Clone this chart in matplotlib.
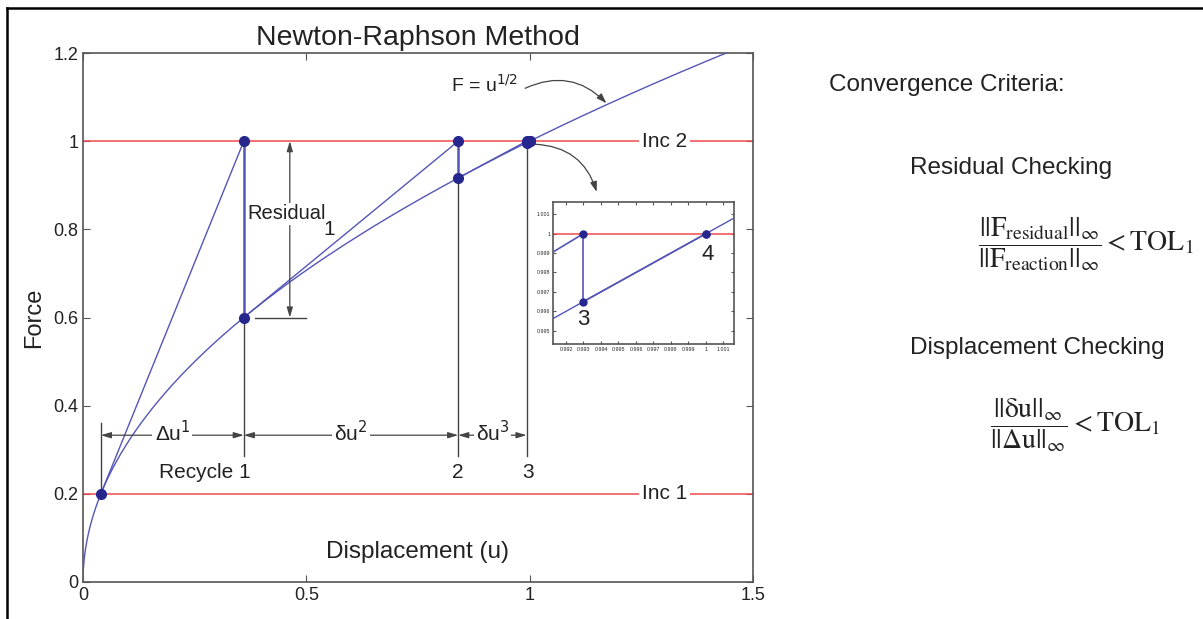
import numpy as np
import matplotlib
matplotlib.use("Agg")
import matplotlib.pyplot as plt
from matplotlib.lines import Line2D

plt.rcParams['font.family'] = ['Liberation Sans', 'DejaVu Sans']

# --- DATA ---
# Newton-Raphson iterates (F = u^1/2, Inc 1 = 0.2, Inc 2 = 1.0)
inc_levels = [0.2, 1.0]
inc_labels = ["Inc 1", "Inc 2"]
iter_u = [0.04, 0.36, 0.84, 0.993, 1.0]          # displacement at each iterate
iter_F = [0.2, 0.6, 0.9165, 0.9965, 1.0]         # internal force on the curve
predict_F = [1.0, 1.0, 1.0, 1.0]                 # tangent predictions reach Inc 2
dim_labels = ["Δu$^1$", "δu$^2$", "δu$^3$"]
recycle_labels = ["Recycle 1", "2", "3"]
main_xticks = [0, 0.5, 1, 1.5]
main_xlabels = ["0", "0.5", "1", "1.5"]
main_yticks = [0, 0.2, 0.4, 0.6, 0.8, 1.0, 1.2]
main_ylabels = ["0", "0.2", "0.4", "0.6", "0.8", "1", "1.2"]
inset_xticks = [0.992, 0.993, 0.994, 0.995, 0.996, 0.997, 0.998, 0.999, 1.0, 1.001]
inset_xlabels = ["0.992", "0.993", "0.994", "0.995", "0.996", "0.997", "0.998", "0.999", "1", "1.001"]
inset_yticks = [0.995, 0.996, 0.997, 0.998, 0.999, 1.0, 1.001]
inset_ylabels = ["0.995", "0.996", "0.997", "0.998", "0.999", "1", "1.001"]

BLUE = "#5555b8"
DOT = "#26268f"
RED = "#f04a4a"
GREY = "#444444"
TXT = "#222222"

W, H = 1203, 619
fig = plt.figure(figsize=(W / 100, H / 100), dpi=100)

def fbox(l, r, t, b):
    return [l / W, 1 - b / H, (r - l) / W, (b - t) / H]

def style_axes(ax, size):
    for s in ax.spines.values():
        s.set_color("#555555")
        s.set_linewidth(1.2)
    ax.tick_params(direction="in", top=True, right=True, colors="#555555",
                   labelcolor=TXT, labelsize=size, length=5)

def draw_iterations(ax, lw_tan, lw_vert, ms):
    # the curve F = u^1/2 (as labelled on the chart)
    uc = np.linspace(0, 1.6, 4000)
    ax.plot(uc, np.sqrt(uc), color=BLUE, lw=1.0, zorder=3)
    for lvl in inc_levels:
        ax.axhline(lvl, color=RED, lw=1.1, zorder=2)
    for i in range(len(predict_F)):
        ax.plot([iter_u[i], iter_u[i + 1]], [iter_F[i], predict_F[i]],
                color=BLUE, lw=lw_tan, zorder=3)
        if i < len(predict_F) - 1:
            ax.plot([iter_u[i + 1], iter_u[i + 1]], [predict_F[i], iter_F[i + 1]],
                    color=BLUE, lw=lw_vert, zorder=3)
    ax.plot(iter_u, iter_F, "o", color=DOT, ms=ms, zorder=5)
    ax.plot(iter_u[1:], predict_F, "o", color=DOT, ms=ms, zorder=5)

# --- MAIN AXES ---
ax = fig.add_axes(fbox(83, 753, 53, 582))
draw_iterations(ax, 1.0, 1.8, 7)
ax.set_xlim(0, 1.5)
ax.set_ylim(0, 1.2)
ax.set_xticks(main_xticks, main_xlabels)
ax.set_yticks(main_yticks, main_ylabels)
style_axes(ax, 13)
ax.set_title("Newton-Raphson Method", fontsize=20.5, color=TXT, pad=6)
ax.set_ylabel("Force", fontsize=17, color=TXT, labelpad=6)
ax.text(0.5, 0.035, "Displacement (u)", transform=ax.transAxes, ha="center",
        va="bottom", fontsize=17.5, color=TXT)

# inc labels on the red lines
for lvl, lab in zip(inc_levels, inc_labels):
    ax.text(1.302, lvl, lab, ha="center", va="center", fontsize=15, color=TXT,
            bbox=dict(fc="white", ec="none", pad=2), zorder=4)

# extension lines below the iterates
ext_top = 0.285
ax.plot([iter_u[0]] * 2, [0.213, 0.36], color=GREY, lw=1.0, zorder=2)
for u, F in zip(iter_u[1:4], iter_F[1:4]):
    ax.plot([u, u], [ext_top, F], color=GREY, lw=1.0, zorder=2)

# dimension arrows
dim_y = 0.333
for i in range(3):
    a, b = iter_u[i], iter_u[i + 1]
    ax.annotate("", xy=(b, dim_y), xytext=(a, dim_y),
                arrowprops=dict(arrowstyle="<|-|>,head_length=0.6,head_width=0.18",
                                color=GREY, lw=0.9, shrinkA=0, shrinkB=0))
    ax.text((a + b) / 2, dim_y + 0.005, dim_labels[i], ha="center", va="center",
            fontsize=15, color=TXT, bbox=dict(fc="white", ec="none", pad=1.5), zorder=4)

ax.text(0.273, 0.249, recycle_labels[0], ha="center", va="center", fontsize=15, color=TXT)
ax.text(iter_u[2], 0.249, recycle_labels[1], ha="center", va="center", fontsize=15, color=TXT)
ax.text(0.996, 0.249, recycle_labels[2], ha="center", va="center", fontsize=15, color=TXT)

# residual arrow
res_x = 0.463
ax.annotate("", xy=(res_x, predict_F[0]), xytext=(res_x, iter_F[1]),
            arrowprops=dict(arrowstyle="<|-|>,head_length=0.6,head_width=0.18",
                            color=GREY, lw=0.9, shrinkA=0, shrinkB=0))
ax.plot([0.385, 0.50], [iter_F[1], iter_F[1]], color=GREY, lw=1.0)
ax.text(0.367, 0.835, "Residual", ha="left", va="center", fontsize=14.5, color=TXT,
        bbox=dict(fc="white", ec="none", pad=1), zorder=4)
ax.text(0.538, 0.8, "1", ha="left", va="center", fontsize=15, color=TXT, zorder=6)

# curve label
ax.text(0.9, 1.127, r"F = u$^{1/2}$", ha="center", va="center", fontsize=14, color=TXT)
ax.annotate("", xy=(1.172, 1.086), xytext=(0.99, 1.12),
            arrowprops=dict(arrowstyle="-|>,head_length=0.6,head_width=0.2",
                            color=GREY, lw=0.9, connectionstyle="arc3,rad=-0.35",
                            shrinkA=0, shrinkB=0))
# arrow to inset
ax.annotate("", xy=(1.15, 0.885), xytext=(1.012, 0.993),
            arrowprops=dict(arrowstyle="-|>,head_length=0.6,head_width=0.2",
                            color=GREY, lw=0.9, connectionstyle="arc3,rad=-0.35",
                            shrinkA=0, shrinkB=0))

# --- INSET ---
axi = fig.add_axes(fbox(553, 734, 202, 344))
draw_iterations(axi, 1.2, 1.2, 5)
axi.set_xlim(0.99126, 1.0016)
axi.set_ylim(0.99431, 1.00163)
axi.set_xticks(inset_xticks, inset_xlabels)
axi.set_yticks(inset_yticks, inset_ylabels)
style_axes(axi, 3.8)
axi.tick_params(length=2.5, pad=2)
axi.text(0.99297, 0.99555, "3", ha="center", va="center", fontsize=16, color=TXT)
axi.text(1.00011, 0.9989, "4", ha="center", va="center", fontsize=16, color=TXT)

# --- RIGHT PANEL ---
fig.text(829 / W, 1 - 85 / H, "Convergence Criteria:", ha="left", va="center",
         fontsize=17.5, color=TXT)
fig.text(910 / W, 1 - 168 / H, "Residual Checking", ha="left", va="center",
         fontsize=17.5, color=TXT)
fig.text(910 / W, 1 - 348 / H, "Displacement Checking", ha="left", va="center",
         fontsize=17.5, color=TXT)
fig.text(978 / W, 1 - 244 / H,
         r"$\dfrac{||\mathrm{F}_{\mathrm{residual}}||_{\infty}}{||\mathrm{F}_{\mathrm{reaction}}||_{\infty}} < \mathrm{TOL}_1$",
         ha="left", va="center", fontsize=20, color=TXT, math_fontfamily="stix")
fig.text(990 / W, 1 - 425 / H,
         r"$\dfrac{||\mathrm{δu}||_{\infty}}{||\mathrm{Δu}||_{\infty}} < \mathrm{TOL}_1$",
         ha="left", va="center", fontsize=20, color=TXT, math_fontfamily="stix")

# outer frame
fig.add_artist(Line2D([7 / W, 1.0], [1 - 8 / H] * 2, transform=fig.transFigure,
                      color="black", lw=1.8))
fig.add_artist(Line2D([7 / W] * 2, [0.0, 1 - 8 / H], transform=fig.transFigure,
                      color="black", lw=1.8))

fig.savefig("out.png", dpi=100)
